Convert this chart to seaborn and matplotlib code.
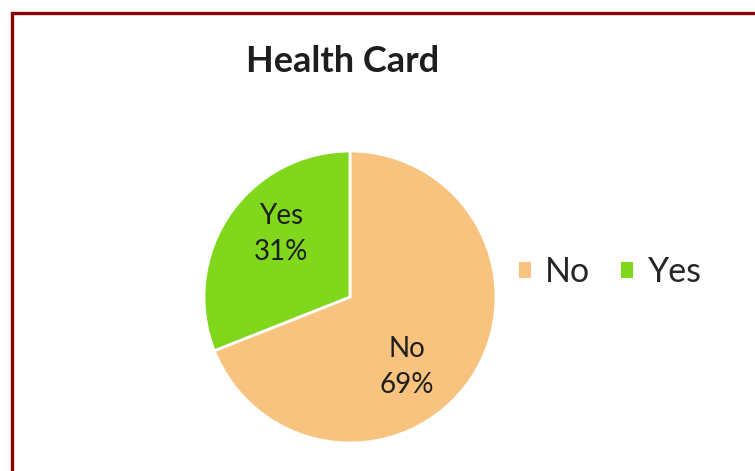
import matplotlib
matplotlib.use("Agg")
import matplotlib.pyplot as plt
from matplotlib.patches import Rectangle
import seaborn as sns

# Survey answers: does the respondent hold a health card?
categories = ["No", "Yes"]
shares = [69, 31]
slice_colors = ["#F8C27F", "#80D71C"]
title = "Health Card"

sns.set_theme(style="white")
plt.rcParams["font.family"] = ["Lato", "DejaVu Sans"]

W, H, DPI = 755, 471, 100
fig = plt.figure(figsize=(W / DPI, H / DPI), dpi=DPI)
fig.patch.set_facecolor("white")

# pie axes: centre (350, 297) px, radius 146 px
cx, cy, r = 350, 297, 146
ax = fig.add_axes([(cx - r) / W, (H - cy - r) / H, 2 * r / W, 2 * r / H])

wedges, _ = ax.pie(
    shares,
    colors=slice_colors,
    startangle=90,
    counterclock=False,
    radius=1.0,
    wedgeprops=dict(edgecolor="white", linewidth=2),
)
ax.set_xlim(-1.0, 1.0)
ax.set_ylim(-1.0, 1.0)
ax.set_aspect("equal")
ax.axis("off")

# in-slice labels: category name over its percentage
label_xy = {"Yes": (-0.47, 0.43), "No": (0.39, -0.48)}
for cat, val in zip(categories, shares):
    x, y = label_xy[cat]
    ax.text(x, y, f"{cat}\n{val}%", ha="center", va="center",
            fontsize=20, color="#1e1e1e", linespacing=1.45)

fig.text(343 / W, 1 - 62 / H, title, ha="center", va="center",
         fontsize=26, fontweight="bold", color="#1e1e1e")

handles = [Rectangle((0, 0), 1, 1, facecolor=c, edgecolor="none") for c in slice_colors]
fig.legend(handles, categories, loc="center left",
           bbox_to_anchor=(488 / W, 1 - 272 / H), ncol=2, frameon=False,
           fontsize=24.5, handlelength=0.36, handleheight=0.36,
           handletextpad=0.42, columnspacing=0.9)

# dark red frame running off the right and bottom edges
fig.patches.append(Rectangle((12 / W, -0.1), 1.2, 1.1 - 13 / H,
                             transform=fig.transFigure, fill=False,
                             edgecolor="#8B0000", linewidth=2.4))

fig.savefig("out.png", dpi=DPI)
